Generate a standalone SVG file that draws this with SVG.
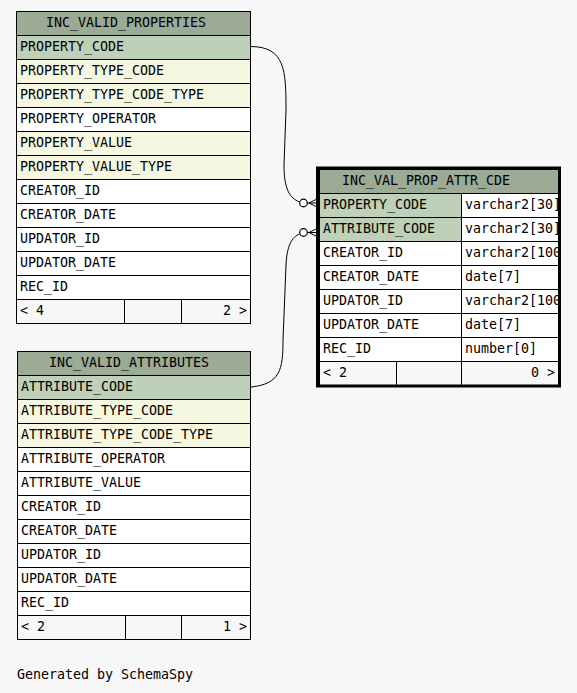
<svg xmlns="http://www.w3.org/2000/svg" width="577" height="693" viewBox="0 0 577 693">
<style>
text{font-family:"DejaVu Sans Mono","Liberation Mono",monospace;font-size:13.3px;fill:#000}
.hd{fill:#9bab96;stroke:#000;stroke-width:1}
.pk{fill:#bed1b8;stroke:#000;stroke-width:1}
.ix{fill:#f5f7e1;stroke:#000;stroke-width:1}
.pl{fill:#fff;stroke:#000;stroke-width:1}
.ft{fill:#f7f7f7;stroke:#000;stroke-width:1}
.ln{stroke:#000;stroke-width:1;fill:none}
.end{text-anchor:end}
</style>
<defs>
<clipPath id="typeclip"><rect x="462" y="190" width="96" height="175"/></clipPath>
</defs>
<rect width="577" height="693" fill="#f7f7f7"/>

<g id="connectors">
<path class="ln" d="M251,46.5 C285,47 286,70 286,110 L284,165 C284,190 290,198 299.5,202"/>
<circle cx="303.5" cy="203" r="3.8" fill="#fff" stroke="#000" stroke-width="1.2"/>
<path class="ln" d="M307.3,203 L316,203 M309,203 L316,199.5 M309,203 L316,206.5" stroke-width="1.5"/>
<path class="ln" d="M251,387 C280,384 283,370 283,340 L286,265 C287,245 292,237 299.7,234"/>
<circle cx="303.5" cy="232.5" r="3.8" fill="#fff" stroke="#000" stroke-width="1.2"/>
<path class="ln" d="M307.3,232.5 L316,232.5 M309,232.5 L316,229 M309,232.5 L316,236" stroke-width="1.5"/>
</g>

<g id="INC_VALID_PROPERTIES">
<rect class="hd" x="16.5" y="11.5" width="234" height="24"/>
<text x="46" y="27">INC_VALID_PROPERTIES</text>
<rect class="pk" x="16.5" y="35.5" width="234" height="24"/>
<text x="20" y="51">PROPERTY_CODE</text>
<rect class="ix" x="16.5" y="59.5" width="234" height="24"/>
<text x="20" y="75">PROPERTY_TYPE_CODE</text>
<rect class="ix" x="16.5" y="83.5" width="234" height="24"/>
<text x="20" y="99">PROPERTY_TYPE_CODE_TYPE</text>
<rect class="pl" x="16.5" y="107.5" width="234" height="24"/>
<text x="20" y="123">PROPERTY_OPERATOR</text>
<rect class="ix" x="16.5" y="131.5" width="234" height="24"/>
<text x="20" y="147">PROPERTY_VALUE</text>
<rect class="ix" x="16.5" y="155.5" width="234" height="24"/>
<text x="20" y="171">PROPERTY_VALUE_TYPE</text>
<rect class="pl" x="16.5" y="179.5" width="234" height="24"/>
<text x="20" y="195">CREATOR_ID</text>
<rect class="pl" x="16.5" y="203.5" width="234" height="24"/>
<text x="20" y="219">CREATOR_DATE</text>
<rect class="pl" x="16.5" y="227.5" width="234" height="24"/>
<text x="20" y="243">UPDATOR_ID</text>
<rect class="pl" x="16.5" y="251.5" width="234" height="24"/>
<text x="20" y="267">UPDATOR_DATE</text>
<rect class="pl" x="16.5" y="275.5" width="234" height="24"/>
<text x="20" y="291">REC_ID</text>
<rect class="ft" x="16.5" y="299.5" width="234" height="24"/>
<path class="ln" d="M124.5,299.5 V323.5 M181.5,299.5 V323.5"/>
<text x="20" y="315">&lt; 4</text>
<text class="end" x="247" y="315">2 &gt;</text>
</g>

<g id="INC_VALID_ATTRIBUTES">
<rect class="hd" x="17.5" y="351.5" width="233" height="24"/>
<text x="49" y="367">INC_VALID_ATTRIBUTES</text>
<rect class="pk" x="17.5" y="375.5" width="233" height="24"/>
<text x="21" y="391">ATTRIBUTE_CODE</text>
<rect class="ix" x="17.5" y="399.5" width="233" height="24"/>
<text x="21" y="415">ATTRIBUTE_TYPE_CODE</text>
<rect class="ix" x="17.5" y="423.5" width="233" height="24"/>
<text x="21" y="439">ATTRIBUTE_TYPE_CODE_TYPE</text>
<rect class="pl" x="17.5" y="447.5" width="233" height="24"/>
<text x="21" y="463">ATTRIBUTE_OPERATOR</text>
<rect class="pl" x="17.5" y="471.5" width="233" height="24"/>
<text x="21" y="487">ATTRIBUTE_VALUE</text>
<rect class="pl" x="17.5" y="495.5" width="233" height="24"/>
<text x="21" y="511">CREATOR_ID</text>
<rect class="pl" x="17.5" y="519.5" width="233" height="24"/>
<text x="21" y="535">CREATOR_DATE</text>
<rect class="pl" x="17.5" y="543.5" width="233" height="24"/>
<text x="21" y="559">UPDATOR_ID</text>
<rect class="pl" x="17.5" y="567.5" width="233" height="24"/>
<text x="21" y="583">UPDATOR_DATE</text>
<rect class="pl" x="17.5" y="591.5" width="233" height="24"/>
<text x="21" y="607">REC_ID</text>
<rect class="ft" x="17.5" y="615.5" width="233" height="24"/>
<path class="ln" d="M125.5,615.5 V639.5 M181.5,615.5 V639.5"/>
<text x="21" y="631">&lt; 2</text>
<text class="end" x="247" y="631">1 &gt;</text>
</g>

<g id="INC_VAL_PROP_ATTR_CDE">
<rect class="hd" x="319.5" y="169.5" width="239" height="24"/>
<text x="342" y="185">INC_VAL_PROP_ATTR_CDE</text>
<rect class="pk" x="319.5" y="193.5" width="142" height="24"/>
<rect class="pl" x="461.5" y="193.5" width="97" height="24"/>
<rect class="pk" x="319.5" y="217.5" width="142" height="24"/>
<rect class="pl" x="461.5" y="217.5" width="97" height="24"/>
<rect class="pl" x="319.5" y="241.5" width="142" height="24"/>
<rect class="pl" x="461.5" y="241.5" width="97" height="24"/>
<rect class="pl" x="319.5" y="265.5" width="142" height="24"/>
<rect class="pl" x="461.5" y="265.5" width="97" height="24"/>
<rect class="pl" x="319.5" y="289.5" width="142" height="24"/>
<rect class="pl" x="461.5" y="289.5" width="97" height="24"/>
<rect class="pl" x="319.5" y="313.5" width="142" height="24"/>
<rect class="pl" x="461.5" y="313.5" width="97" height="24"/>
<rect class="pl" x="319.5" y="337.5" width="142" height="24"/>
<rect class="pl" x="461.5" y="337.5" width="97" height="24"/>
<rect class="ft" x="319.5" y="361.5" width="239" height="24"/>
<path class="ln" d="M396.5,361.5 V385.5 M461.5,361.5 V385.5"/>
<text x="323" y="209">PROPERTY_CODE</text>
<text x="323" y="233">ATTRIBUTE_CODE</text>
<text x="323" y="257">CREATOR_ID</text>
<text x="323" y="281">CREATOR_DATE</text>
<text x="323" y="305">UPDATOR_ID</text>
<text x="323" y="329">UPDATOR_DATE</text>
<text x="323" y="353">REC_ID</text>
<g clip-path="url(#typeclip)">
<text x="465" y="209">varchar2[30]</text>
<text x="465" y="233">varchar2[30]</text>
<text x="465" y="257">varchar2[100]</text>
<text x="465" y="281">date[7]</text>
<text x="465" y="305">varchar2[100]</text>
<text x="465" y="329">date[7]</text>
<text x="465" y="353">number[0]</text>
</g>
<text x="323" y="377">&lt; 2</text>
<text class="end" x="555" y="377">0 &gt;</text>
<rect x="317.5" y="168" width="242" height="218" fill="none" stroke="#000" stroke-width="3"/>
</g>

<text x="17" y="679">Generated by SchemaSpy</text>
</svg>
